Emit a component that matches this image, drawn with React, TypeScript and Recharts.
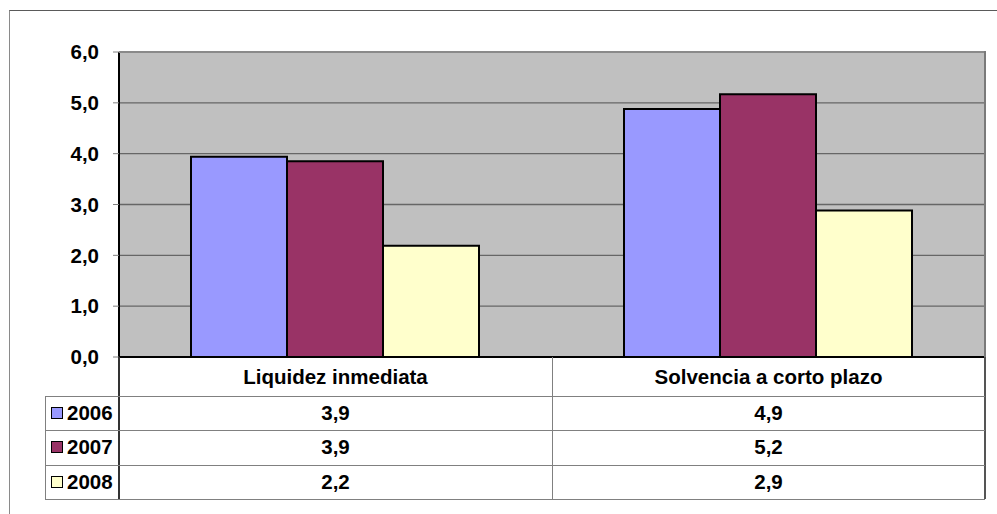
import React from 'react';
import { BarChart, Bar, XAxis, YAxis, CartesianGrid } from 'recharts';

const categories = ['Liquidez inmediata', 'Solvencia a corto plazo'];
const years = ['2006', '2007', '2008'];
const values2006 = [3.94, 4.88];
const values2007 = [3.85, 5.17];
const values2008 = [2.19, 2.88];
const yTicks = [0, 1, 2, 3, 4, 5, 6];
const seriesColors = ['#9999FF', '#993366', '#FFFFCC'];

const seriesValues = [values2006, values2007, values2008];
const data = categories.map((c, i) => ({
  name: c,
  y2006: values2006[i],
  y2007: values2007[i],
  y2008: values2008[i],
}));

const W = 997;
const H = 514;
const PLOT_LEFT = 119;
const PLOT_RIGHT = 985;
const PLOT_TOP = 52;
const PLOT_BOTTOM = 357;
const TABLE_HEADER_BOTTOM = 396;
const ROW_H = 34.33;
const LEGEND_LEFT = 45;
const FS = 20.5;
const FONT = 'Arial, "Liberation Sans", sans-serif';

const fmt = (v: number) => (Math.round(v * 10) / 10).toFixed(1).replace('.', ',');

export default function App() {
  const colW = (PLOT_RIGHT - PLOT_LEFT) / categories.length;
  const tableBottom = TABLE_HEADER_BOTTOM + ROW_H * years.length;
  const lineGray = '#808080';
  return (
    <div style={{ position: 'absolute', left: 0, top: 0, width: W, height: H, background: '#fff', overflow: 'hidden', fontFamily: FONT }}>
      <div style={{ position: 'absolute', left: 9, top: 10, width: W, height: H, borderTop: '1px solid #5a5a5a', borderLeft: '1px solid #8a8a8a' }} />
      <div style={{ position: 'absolute', left: 0, top: 0 }}>
        <BarChart
          width={W}
          height={H}
          data={data}
          margin={{ top: PLOT_TOP, right: W - PLOT_RIGHT, left: 0, bottom: H - PLOT_BOTTOM - 40 }}
          barCategoryGap={72}
          barGap={0}
        >
          <CartesianGrid horizontal vertical={false} stroke="#666666" strokeWidth={1.3} fill="#C0C0C0" fillOpacity={1} />
          <XAxis
            dataKey="name"
            height={40}
            tickLine={false}
            tickSize={0}
            tickMargin={12}
            axisLine={{ stroke: '#000', strokeWidth: 2 }}
            tick={{ fill: '#000', fontSize: FS, fontWeight: 'bold', fontFamily: FONT }}
            interval={0}
          />
          <YAxis
            width={PLOT_LEFT}
            domain={[0, 6]}
            ticks={yTicks}
            interval={0}
            tickFormatter={fmt}
            tickSize={6}
            tickMargin={14}
            tickLine={{ stroke: '#808080' }}
            axisLine={{ stroke: '#000', strokeWidth: 2 }}
            tick={{ fill: '#000', fontSize: FS, fontWeight: 'bold', fontFamily: FONT }}
          />
          {years.map((y, i) => (
            <Bar key={y} dataKey={'y' + y} name={y} fill={seriesColors[i]} stroke="#000" strokeWidth={2} isAnimationActive={false} />
          ))}
        </BarChart>
      </div>
      {/* plot area border */}
      <div style={{ position: 'absolute', left: PLOT_LEFT, top: PLOT_TOP - 1, width: PLOT_RIGHT - PLOT_LEFT, height: 0, borderTop: '2px solid #8a8a8a' }} />
      <div style={{ position: 'absolute', left: PLOT_RIGHT - 1, top: PLOT_TOP - 1, width: 0, height: PLOT_BOTTOM - PLOT_TOP + 1, borderLeft: '2px solid #7a7a7a' }} />
      {/* data table */}
      <div style={{ position: 'absolute', left: PLOT_RIGHT - 1, top: PLOT_BOTTOM, width: 0, height: tableBottom - PLOT_BOTTOM, borderLeft: '2px solid #555' }} />
      <div style={{ position: 'absolute', left: PLOT_LEFT - 1, top: PLOT_BOTTOM, width: 0, height: tableBottom - PLOT_BOTTOM, borderLeft: '2px solid #333' }} />
      <div style={{ position: 'absolute', left: LEGEND_LEFT, top: TABLE_HEADER_BOTTOM, width: 0, height: tableBottom - TABLE_HEADER_BOTTOM, borderLeft: '1px solid ' + lineGray }} />
      {categories.slice(1).map((c, i) => (
        <div key={c} style={{ position: 'absolute', left: PLOT_LEFT + colW * (i + 1), top: PLOT_BOTTOM, width: 0, height: tableBottom - PLOT_BOTTOM, borderLeft: '1px solid ' + lineGray }} />
      ))}
      {years.map((y, r) => (
        <div key={'h' + y} style={{ position: 'absolute', left: LEGEND_LEFT, top: TABLE_HEADER_BOTTOM + ROW_H * r, width: PLOT_RIGHT - LEGEND_LEFT, height: 0, borderTop: '1.5px solid ' + lineGray }} />
      ))}
      <div style={{ position: 'absolute', left: LEGEND_LEFT, top: tableBottom, width: PLOT_RIGHT - LEGEND_LEFT, height: 0, borderTop: '1.5px solid ' + lineGray }} />
      {years.map((y, r) => (
        <div key={'l' + y} style={{ position: 'absolute', left: LEGEND_LEFT, top: TABLE_HEADER_BOTTOM + ROW_H * r, width: PLOT_LEFT - LEGEND_LEFT, height: ROW_H, display: 'flex', alignItems: 'center' }}>
          <div style={{ width: 10, height: 10, marginLeft: 6, marginRight: 4, background: seriesColors[r], border: '1.5px solid #000' }} />
          <span style={{ fontSize: FS, fontWeight: 'bold', color: '#000' }}>{y}</span>
        </div>
      ))}
      {years.map((y, r) =>
        categories.map((c, i) => (
          <div key={y + c} style={{ position: 'absolute', left: PLOT_LEFT + colW * i, top: TABLE_HEADER_BOTTOM + ROW_H * r, width: colW, height: ROW_H, display: 'flex', alignItems: 'center', justifyContent: 'center', fontSize: FS, fontWeight: 'bold', color: '#000' }}>
            {fmt(seriesValues[r][i])}
          </div>
        ))
      )}
    </div>
  );
}
